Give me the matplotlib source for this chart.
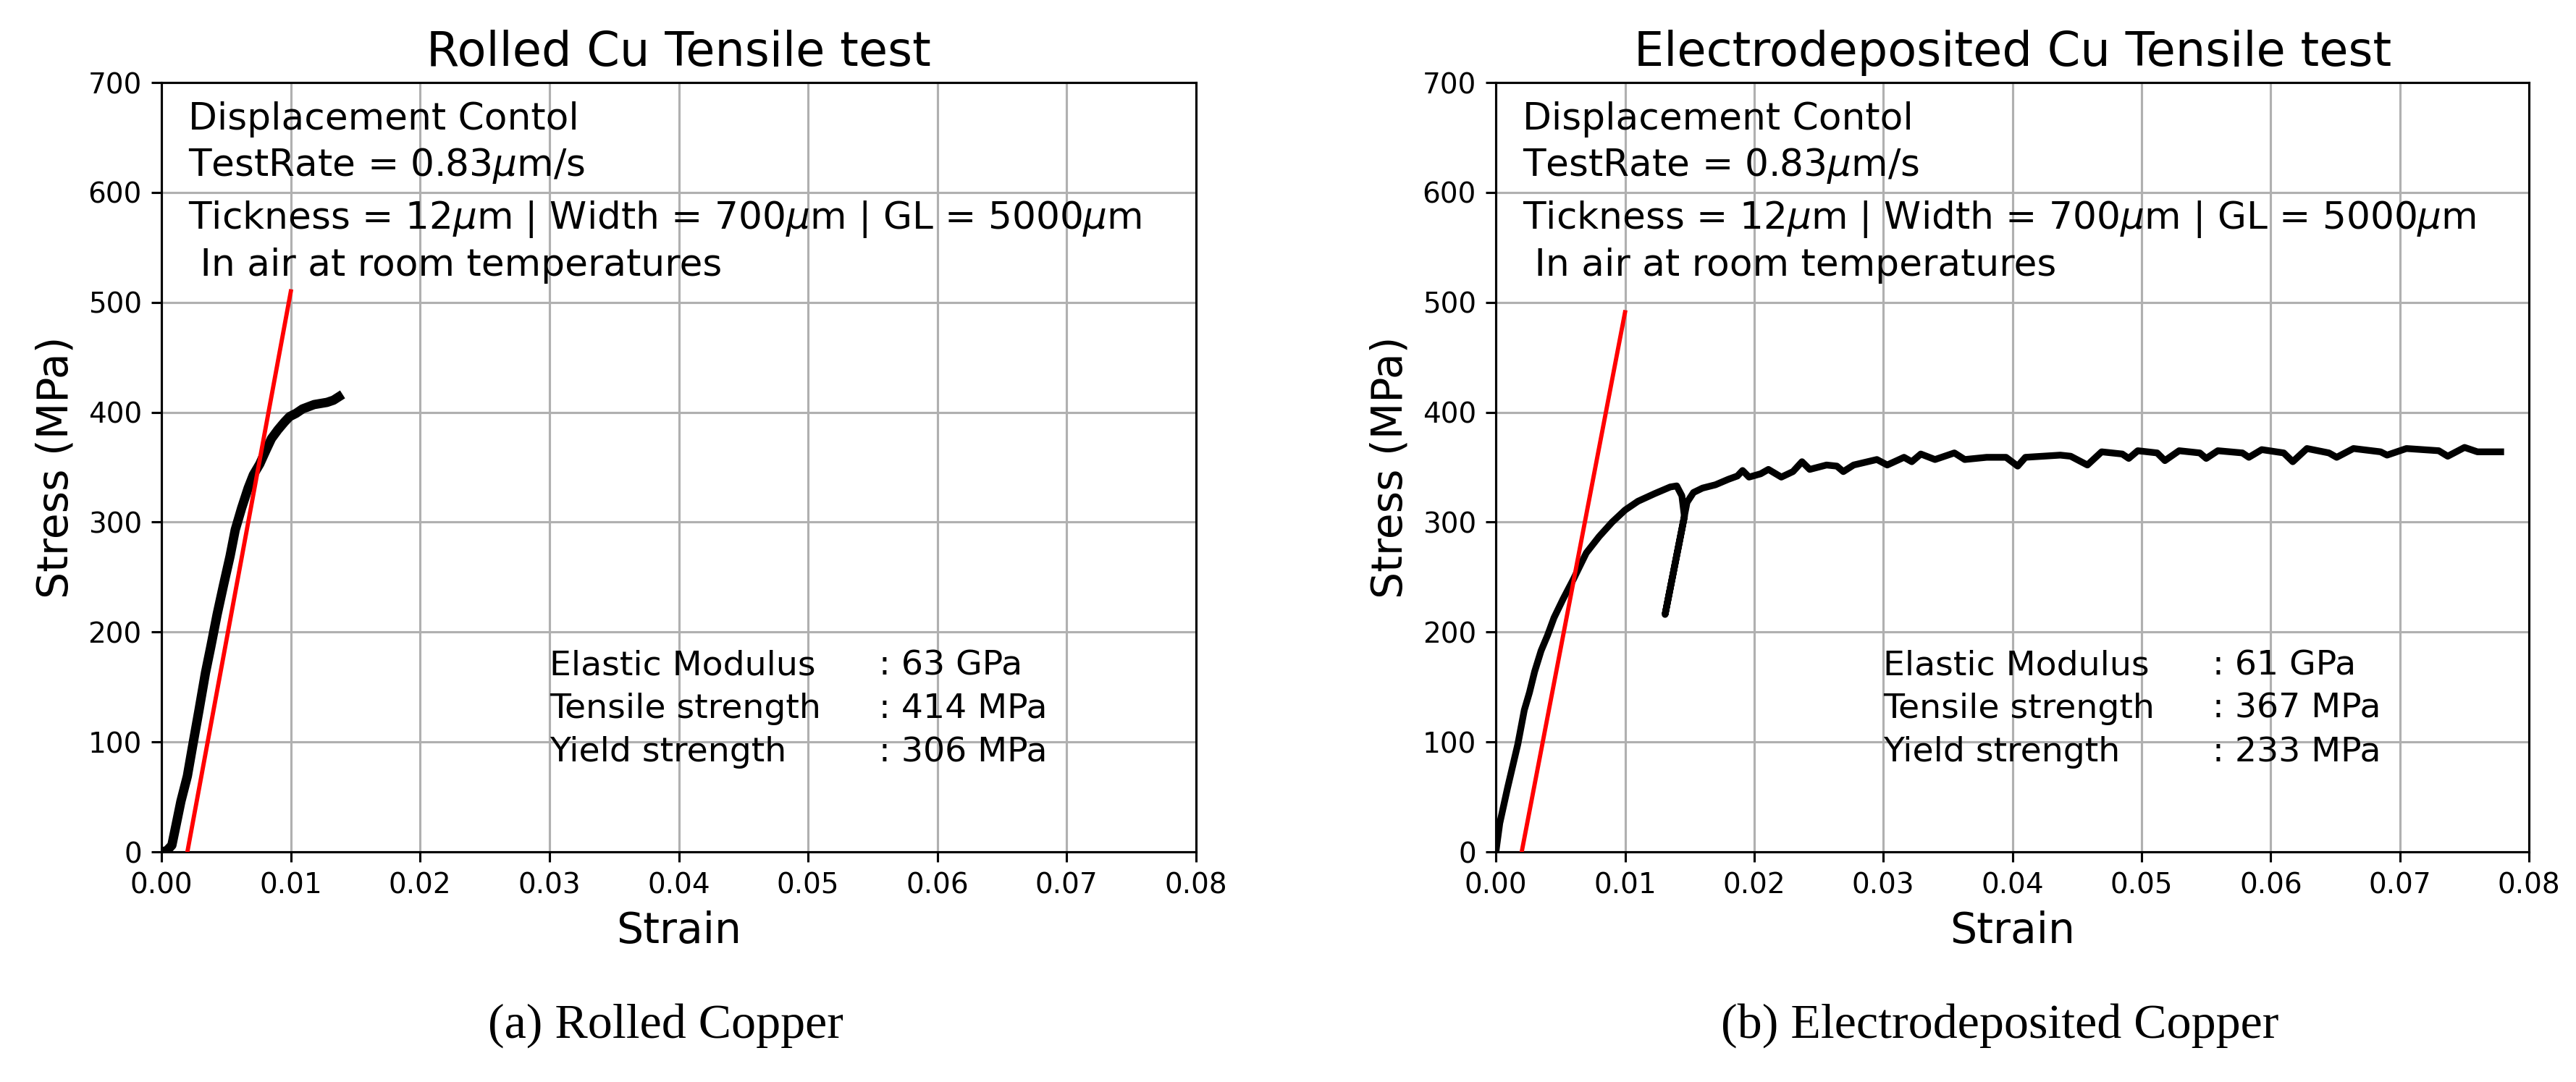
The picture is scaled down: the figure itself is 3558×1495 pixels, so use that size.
import numpy as np
import matplotlib
matplotlib.use('Agg')
import matplotlib.pyplot as plt

# rolled copper curve (strain, stress MPa)
rolled_strain = [0.0, 0.0004, 0.0008, 0.0011, 0.0015, 0.0020, 0.0024, 0.0029, 0.0034,
                 0.0038, 0.0043, 0.0048, 0.0053, 0.0057, 0.0062, 0.0067, 0.0071, 0.0076,
                 0.0081, 0.0085, 0.0090, 0.0095, 0.0099, 0.0104, 0.0109, 0.0118, 0.0128,
                 0.0133, 0.0137]
rolled_stress = [0, 1, 6, 23, 46, 69, 96, 129, 163,
                 186, 216, 243, 269, 293, 313, 331, 343, 353,
                 366, 376, 384, 391, 396, 399, 403, 407, 409,
                 411, 414]

# electrodeposited copper curve
ed_strain = [0.0, 0.0003, 0.0009, 0.0017, 0.0022, 0.0026, 0.0030, 0.0035, 0.0040, 0.0045,
             0.0052, 0.0060, 0.0070, 0.0080, 0.0090, 0.0100, 0.0110, 0.0123, 0.0135, 0.0140,
             0.0144, 0.0146, 0.0131, 0.0145, 0.0148, 0.0153, 0.0160, 0.0170, 0.0180, 0.0187,
             0.0191, 0.0196, 0.0205, 0.0211, 0.0221, 0.0230, 0.0237, 0.0243, 0.0256, 0.0264,
             0.0269, 0.0277, 0.0295, 0.0303, 0.0316, 0.0322, 0.0329, 0.0340, 0.0355, 0.0363,
             0.0380, 0.0395, 0.0404, 0.0410, 0.0437, 0.0445, 0.0458, 0.0469, 0.0485, 0.0490,
             0.0497, 0.0512, 0.0518, 0.0529, 0.0545, 0.0550, 0.0559, 0.0578, 0.0583, 0.0593,
             0.0610, 0.0617, 0.0628, 0.0645, 0.0651, 0.0664, 0.0685, 0.0690, 0.0705, 0.0730,
             0.0737, 0.0750, 0.0760, 0.0778]
ed_stress = [0, 26, 58, 98, 129, 145, 164, 183, 197, 213,
             230, 248, 272, 287, 300, 311, 319, 326, 332, 333,
             324, 305, 216, 300, 318, 327, 331, 334, 339, 342,
             347, 341, 344, 348, 341, 346, 355, 348, 352, 351,
             346, 352, 357, 352, 359, 355, 362, 357, 363, 357,
             359, 359, 351, 359, 361, 360, 352, 364, 362, 358,
             365, 363, 356, 365, 363, 358, 365, 363, 359, 366,
             363, 355, 367, 363, 359, 367, 364, 361, 367, 365,
             360, 368, 364, 364]

# 0.2% offset lines
rolled_fit_x = [0.002, 0.010]
rolled_fit_y = [0, 510]
ed_fit_x = [0.002, 0.010]
ed_fit_y = [0, 491]

titles = ['Rolled Cu Tensile test', 'Electrodeposited Cu Tensile test']
captions = ['(a) Rolled Copper', '(b) Electrodeposited Copper']
info_lines = ['Displacement Contol',
              r'TestRate = 0.83$\mu$m/s',
              r'Tickness = 12$\mu$m | Width = 700$\mu$m | GL = 5000$\mu$m',
              ' In air at room temperatures']
stat_names = ['Elastic Modulus', 'Tensile strength', 'Yield strength']
rolled_stats = [': 63 GPa', ': 414 MPa', ': 306 MPa']
ed_stats = [': 61 GPa', ': 367 MPa', ': 233 MPa']

fig = plt.figure(figsize=(3558/280, 1495/280), dpi=280)
rects = [[0.0627, 0.2127, 0.4016, 0.7110], [0.5807, 0.2127, 0.4011, 0.7110]]
curves = [(rolled_strain, rolled_stress, rolled_fit_x, rolled_fit_y, rolled_stats, 3.3),
          (ed_strain, ed_stress, ed_fit_x, ed_fit_y, ed_stats, 2.4)]

for i in range(2):
    sx, sy, fx, fy, stats, lw = curves[i]
    ax = fig.add_axes(rects[i])
    ax.plot(sx, sy, color='k', lw=lw, zorder=3)
    ax.plot(fx, fy, color='r', lw=1.5, zorder=4)
    ax.set_xlim(0, 0.08)
    ax.set_ylim(0, 700)
    ax.set_xticks(np.arange(0, 0.081, 0.01))
    ax.set_xticklabels(['%.2f' % v for v in np.arange(0, 0.081, 0.01)])
    ax.grid(True)
    ax.set_title(titles[i], fontsize=16.8)
    ax.set_xlabel('Strain', fontsize=15)
    ax.set_ylabel('Stress (MPa)', fontsize=15)
    # info text
    for yy, line in zip([0.939, 0.879, 0.810, 0.749], info_lines):
        ax.text(0.026, yy, line, transform=ax.transAxes, fontsize=13.3, va='baseline')
    for yy, name, val in zip([161, 122, 82], stat_names, stats):
        ax.text(0.0300, yy, name, fontsize=12.2, va='baseline')
        ax.text(0.0555, yy, val, fontsize=12.2, va='baseline')
    cx = rects[i][0] + rects[i][2] / 2 - 0.005
    fig.text(cx, 1 - 1434/1495, captions[i], ha='center', va='baseline',
             fontsize=17.5, family='Liberation Serif')

fig.savefig('out.png', dpi=280)
